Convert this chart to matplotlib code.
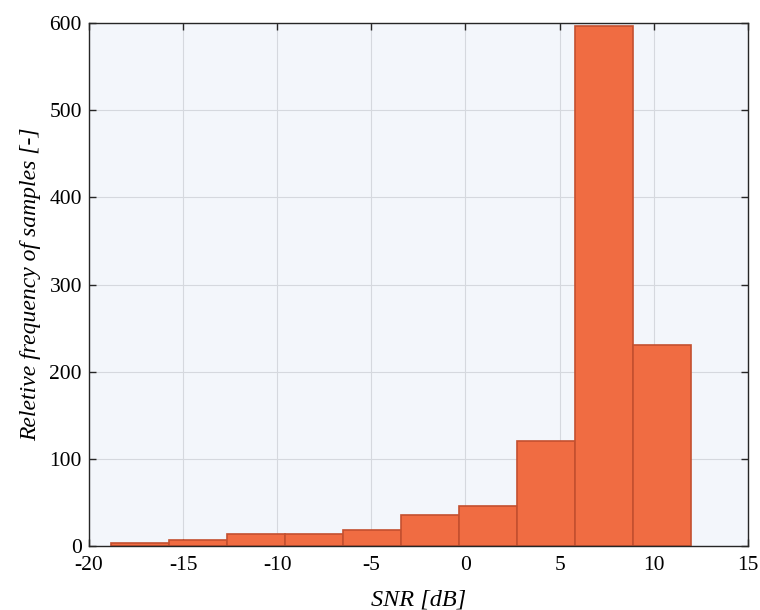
import numpy as np
import matplotlib
matplotlib.use("Agg")
import matplotlib.pyplot as plt

plt.rcParams['font.family'] = ['Liberation Serif', 'DejaVu Serif']
plt.rcParams['mathtext.fontset'] = 'stix'

bin_edges = [-18.85, -15.77, -12.68, -9.60, -6.51, -3.43, -0.34, 2.74, 5.83, 8.91, 12.0]
counts = [3, 7, 14, 14, 18, 36, 46, 121, 597, 231]
x_ticks = [-20, -15, -10, -5, 0, 5, 10, 15]
x_ticklabels = ['-20', '-15', '-10', '-5', '0', '5', '10', '15']
y_ticks = [0, 100, 200, 300, 400, 500, 600]

fig = plt.figure(figsize=(7.6, 6.1), dpi=100)
ax = fig.add_axes([0.117, 0.105, 0.867, 0.857])
ax.set_facecolor('#F3F6FB')

edges = np.array(bin_edges)
ax.bar(edges[:-1], counts, width=np.diff(edges), align='edge',
       color='#F06C42', edgecolor='#C4502F', linewidth=1.2, zorder=3)

ax.set_xlim(-20, 15)
ax.set_ylim(0, 600)
ax.set_xticks(x_ticks)
ax.set_xticklabels(x_ticklabels)
ax.set_yticks(y_ticks)
ax.grid(True, color='#D5D8DE', linewidth=0.8, zorder=0)
ax.set_axisbelow(True)
ax.tick_params(direction='in', top=True, right=True, labelsize=15.5, length=5,
               color='#262626', width=1.0)
ax.tick_params(axis='x', pad=7.5)
ax.tick_params(axis='y', pad=5)
for s in ax.spines.values():
    s.set_color('#262626')
    s.set_linewidth(1.0)
    s.set_zorder(4)

ax.set_xlabel('SNR [dB]', fontsize=17.5, fontstyle='italic', labelpad=10)
ax.set_ylabel('Reletive frequency of samples [-]', fontsize=17, fontstyle='italic', labelpad=6)

fig.savefig('out.png', dpi=100)
